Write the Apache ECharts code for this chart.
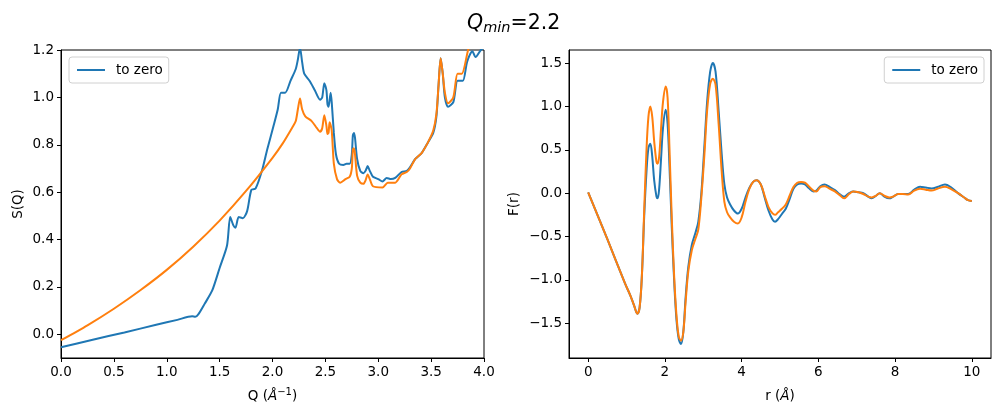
<!DOCTYPE html>
<html>
<head>
<meta charset="utf-8">
<script src="https://cdn.jsdelivr.net/npm/echarts@6/dist/echarts.min.js"></script>
<style>
  html, body { margin: 0; padding: 0; background: #fff; }
  #main { width: 1001px; height: 416px; }
</style>
</head>
<body>
<div id="main"></div>
<script>
// left panel: S(Q)
var qToZero = [0.0, 0.3, 0.6, 0.9, 1.1, 1.24, 1.27, 1.3, 1.36, 1.43, 1.5, 1.57, 1.6, 1.63, 1.65, 1.68, 1.72, 1.76, 1.8, 1.84, 1.9, 1.95, 2.01, 2.05, 2.08, 2.12, 2.17, 2.22, 2.24, 2.26, 2.28, 2.3, 2.35, 2.4, 2.45, 2.47, 2.49, 2.51, 2.52, 2.53, 2.55, 2.56, 2.58, 2.6, 2.63, 2.67, 2.7, 2.73, 2.75, 2.76, 2.77, 2.78, 2.8, 2.83, 2.86, 2.88, 2.9, 2.92, 2.95, 3.0, 3.04, 3.08, 3.12, 3.16, 3.22, 3.27, 3.3, 3.35, 3.41, 3.47, 3.52, 3.55, 3.57, 3.59, 3.61, 3.63, 3.66, 3.71, 3.75, 3.8, 3.84, 3.89, 3.92, 3.97, 4.0];
var sToZero = [-0.055, -0.023, 0.008, 0.04, 0.061, 0.076, 0.074, 0.085, 0.13, 0.185, 0.28, 0.375, 0.495, 0.46, 0.45, 0.495, 0.49, 0.52, 0.61, 0.615, 0.69, 0.78, 0.88, 0.95, 1.02, 1.02, 1.07, 1.12, 1.16, 1.21, 1.15, 1.1, 1.07, 1.03, 0.99, 1.0, 1.06, 1.03, 0.97, 0.96, 1.02, 0.98, 0.85, 0.76, 0.72, 0.715, 0.72, 0.72, 0.76, 0.84, 0.85, 0.83, 0.74, 0.69, 0.68, 0.69, 0.71, 0.69, 0.665, 0.655, 0.645, 0.66, 0.655, 0.66, 0.685, 0.69, 0.705, 0.74, 0.765, 0.81, 0.85, 0.92, 1.05, 1.165, 1.1, 1.0, 0.96, 0.98, 1.07, 1.07, 1.15, 1.195, 1.17, 1.2, 1.21];

var qOther = [0.0, 0.25, 0.5, 0.75, 1.0, 1.25, 1.5, 1.75, 2.0, 2.1, 2.19, 2.22, 2.24, 2.26, 2.28, 2.31, 2.37, 2.42, 2.45, 2.47, 2.49, 2.51, 2.52, 2.53, 2.54, 2.56, 2.58, 2.61, 2.64, 2.69, 2.73, 2.75, 2.76, 2.77, 2.78, 2.8, 2.83, 2.86, 2.88, 2.9, 2.92, 2.95, 3.04, 3.09, 3.16, 3.22, 3.27, 3.3, 3.35, 3.41, 3.47, 3.52, 3.55, 3.57, 3.59, 3.61, 3.63, 3.66, 3.71, 3.75, 3.79, 3.85, 3.9];
var sOther = [-0.025, 0.038, 0.108, 0.186, 0.272, 0.37, 0.48, 0.605, 0.745, 0.808, 0.875, 0.9, 0.95, 0.995, 0.95, 0.92, 0.9, 0.87, 0.855, 0.87, 0.925, 0.88, 0.845, 0.85, 0.895, 0.86, 0.72, 0.655, 0.64, 0.655, 0.665, 0.7, 0.78, 0.785, 0.76, 0.67, 0.64, 0.635, 0.65, 0.675, 0.655, 0.625, 0.62, 0.64, 0.64, 0.675, 0.685, 0.7, 0.74, 0.765, 0.81, 0.86, 0.93, 1.05, 1.165, 1.1, 1.02, 0.975, 1.0, 1.1, 1.1, 1.2, 1.26];

// right panel: F(r)
var rValues = [0.0, 0.5, 0.96, 1.1, 1.2, 1.28, 1.34, 1.4, 1.46, 1.52, 1.57, 1.62, 1.67, 1.72, 1.78, 1.81, 1.85, 1.9, 1.95, 2.02, 2.07, 2.12, 2.18, 2.24, 2.3, 2.36, 2.42, 2.48, 2.54, 2.61, 2.7, 2.8, 2.87, 2.95, 3.03, 3.1, 3.18, 3.25, 3.32, 3.4, 3.48, 3.55, 3.62, 3.7, 3.8, 3.9, 4.0, 4.1, 4.2, 4.3, 4.39, 4.5, 4.6, 4.7, 4.8, 4.87, 4.95, 5.05, 5.15, 5.25, 5.35, 5.45, 5.55, 5.65, 5.75, 5.87, 5.95, 6.05, 6.16, 6.3, 6.43, 6.55, 6.67, 6.8, 6.91, 7.05, 7.17, 7.3, 7.39, 7.5, 7.6, 7.72, 7.85, 7.95, 8.08, 8.2, 8.34, 8.5, 8.65, 8.8, 8.95, 9.1, 9.3, 9.45, 9.64, 9.8, 9.9, 10.0];
var fToZero = [0.01, -0.53, -1.04, -1.18, -1.3, -1.39, -1.32, -0.95, -0.27, 0.25, 0.52, 0.57, 0.42, 0.15, -0.04, -0.06, 0.05, 0.4, 0.75, 0.96, 0.8, 0.3, -0.4, -1.0, -1.45, -1.68, -1.74, -1.6, -1.2, -0.85, -0.6, -0.45, -0.33, 0.0, 0.55, 1.05, 1.4, 1.5, 1.4, 0.95, 0.45, 0.1, -0.05, -0.13, -0.2, -0.235, -0.18, -0.05, 0.06, 0.13, 0.15, 0.1, -0.05, -0.2, -0.3, -0.33, -0.3, -0.24, -0.18, -0.07, 0.05, 0.1, 0.11, 0.1, 0.06, 0.02, 0.03, 0.08, 0.1, 0.07, 0.035, -0.01, -0.04, 0.0, 0.02, 0.01, 0.0, -0.04, -0.06, -0.03, 0.0, -0.04, -0.06, -0.04, -0.01, -0.01, -0.01, 0.04, 0.075, 0.065, 0.055, 0.07, 0.1, 0.07, 0.0, -0.05, -0.08, -0.09];
var fOther = [0.01, -0.53, -1.04, -1.18, -1.3, -1.39, -1.32, -0.95, -0.2, 0.5, 0.88, 1.0, 0.88, 0.6, 0.36, 0.34, 0.42, 0.75, 1.05, 1.23, 1.1, 0.5, -0.3, -0.95, -1.4, -1.65, -1.7, -1.6, -1.25, -0.9, -0.66, -0.52, -0.42, -0.05, 0.45, 0.95, 1.26, 1.32, 1.25, 0.8, 0.25, -0.1, -0.22, -0.28, -0.33, -0.35, -0.28, -0.1, 0.05, 0.13, 0.15, 0.1, -0.03, -0.16, -0.23, -0.25, -0.22, -0.18, -0.13, -0.03, 0.07, 0.12, 0.13, 0.12, 0.08, 0.03, 0.02, 0.07, 0.08, 0.05, 0.02, -0.02, -0.06, -0.01, 0.02, 0.01, -0.01, -0.04, -0.05, -0.03, 0.0, -0.03, -0.05, -0.04, -0.01, -0.01, -0.015, 0.03, 0.05, 0.04, 0.03, 0.05, 0.075, 0.05, 0.0, -0.05, -0.08, -0.09];

// tick labels
var leftXTicks = [0, 0.5, 1, 1.5, 2, 2.5, 3, 3.5, 4];
var leftYTicks = [0, 0.2, 0.4, 0.6, 0.8, 1.0, 1.2];
var rightXTicks = [0, 2, 4, 6, 8, 10];
var rightYTicks = [-1.5, -1.0, -0.5, 0.0, 0.5, 1.0, 1.5];

function pairs(xs, ys) {
    return xs.map(function (x, i) { return [x, ys[i]]; });
}
function fmt1(v) {
    var s = v.toFixed(1);
    return v < 0 ? '\u2212' + s.slice(1) : s;
}

var BLUE = '#1f77b4', ORANGE = '#ff7f0e';
var FONT = 'DejaVu Sans';

var axisCommon = {
    axisLine: { onZero: false, lineStyle: { color: '#000', width: 1 } },
    axisTick: { length: 4, lineStyle: { color: '#000' } },
    splitLine: { show: false },
    axisLabel: { color: '#000', fontFamily: FONT, fontSize: 13.5 },
    nameTextStyle: { color: '#000', fontFamily: FONT, fontSize: 13.5 }
};

function axis(extra) {
    return echarts.util.merge(echarts.util.clone(axisCommon), extra, true);
}

var legendCommon = {
    data: ['to zero'],
    orient: 'vertical',
    icon: 'rect',
    itemWidth: 28,
    itemHeight: 2,
    itemGap: 0,
    padding: [6, 6, 6, 8],
    borderColor: '#d0d0d0',
    borderWidth: 1,
    borderRadius: 3,
    backgroundColor: 'rgba(255,255,255,0.8)',
    textStyle: { color: '#000', fontFamily: FONT, fontSize: 13.5, padding: [0, 0, 0, 6] },
    selectedMode: false
};

var chart = echarts.init(document.getElementById('main'));
var option = {
    animation: false,
    backgroundColor: '#fff',
    title: {
        text: '{q|Q}{sub|min}{n|=2.2}',
        left: 462,
        top: 6,
        textStyle: {
            fontWeight: 'normal',
            rich: {
                q: { fontFamily: FONT, fontStyle: 'italic', fontWeight: 'normal', fontSize: 20.5, color: '#000' },
                sub: { fontFamily: FONT, fontStyle: 'italic', fontWeight: 'normal', fontSize: 14.5, color: '#000', verticalAlign: 'bottom', padding: [10, 0, 0, 0] },
                n: { fontFamily: FONT, fontWeight: 'normal', fontSize: 20.5, color: '#000' }
            }
        }
    },
    legend: [
        echarts.util.merge({ left: 69, top: 57 }, echarts.util.clone(legendCommon)),
        echarts.util.merge({ right: 17, top: 57 }, echarts.util.clone(legendCommon))
    ],
    grid: [
        { left: 61, top: 50, width: 423, height: 308, show: true, borderColor: '#000', borderWidth: 1, containLabel: false },
        { left: 569, top: 50, width: 422, height: 308, show: true, borderColor: '#000', borderWidth: 1, containLabel: false }
    ],
    xAxis: [
        axis({
            gridIndex: 0, type: 'value', min: 0, max: 4,
            name: '{t|Q (}{i|\u00c5}{s|\u22121}{t|)}', nameLocation: 'middle', nameGap: 29,
            nameTextStyle: { rich: {
                t: { fontFamily: FONT, fontSize: 13.5, color: '#000' },
                i: { fontFamily: FONT, fontSize: 13.5, fontStyle: 'italic', color: '#000' },
                s: { fontFamily: FONT, fontSize: 10, color: '#000', verticalAlign: 'top', padding: [0, 0, 8, 0] }
            } },
            axisTick: { customValues: leftXTicks },
            axisLabel: { customValues: leftXTicks, formatter: fmt1, margin: 7 }
        }),
        axis({
            gridIndex: 1, type: 'value', min: -0.5, max: 10.5,
            name: '{t|r (}{i|\u00c5}{t|)}', nameLocation: 'middle', nameGap: 31,
            nameTextStyle: { rich: {
                t: { fontFamily: FONT, fontSize: 13.5, color: '#000' },
                i: { fontFamily: FONT, fontSize: 13.5, fontStyle: 'italic', color: '#000' }
            } },
            axisTick: { customValues: rightXTicks },
            axisLabel: { customValues: rightXTicks, formatter: function (v) { return String(v); }, margin: 7 }
        })
    ],
    yAxis: [
        axis({
            gridIndex: 0, type: 'value', min: -0.1, max: 1.2,
            name: 'S(Q)', nameLocation: 'middle', nameGap: 36, nameRotate: 90,
            axisTick: { customValues: leftYTicks },
            axisLabel: { customValues: leftYTicks, formatter: fmt1, margin: 7 }
        }),
        axis({
            gridIndex: 1, type: 'value', min: -1.9, max: 1.65,
            name: 'F(r)', nameLocation: 'middle', nameGap: 48, nameRotate: 90,
            axisTick: { customValues: rightYTicks },
            axisLabel: { customValues: rightYTicks, formatter: fmt1, margin: 7 }
        })
    ],
    series: [
        {
            name: 'to zero', type: 'line', xAxisIndex: 0, yAxisIndex: 0,
            data: pairs(qToZero, sToZero), showSymbol: false, smooth: 0.25,
            lineStyle: { color: BLUE, width: 2 }, itemStyle: { color: BLUE }, clip: true
        },
        {
            name: 'other', type: 'line', xAxisIndex: 0, yAxisIndex: 0,
            data: pairs(qOther, sOther), showSymbol: false, smooth: 0.25,
            lineStyle: { color: ORANGE, width: 2 }, itemStyle: { color: ORANGE }, clip: true
        },
        {
            name: 'to zero', type: 'line', xAxisIndex: 1, yAxisIndex: 1,
            data: pairs(rValues, fToZero), showSymbol: false, smooth: 0.35,
            lineStyle: { color: BLUE, width: 2 }, itemStyle: { color: BLUE }, clip: true
        },
        {
            name: 'other', type: 'line', xAxisIndex: 1, yAxisIndex: 1,
            data: pairs(rValues, fOther), showSymbol: false, smooth: 0.35,
            lineStyle: { color: ORANGE, width: 2 }, itemStyle: { color: ORANGE }, clip: true
        }
    ]
};
chart.setOption(option);
</script>
</body>
</html>
